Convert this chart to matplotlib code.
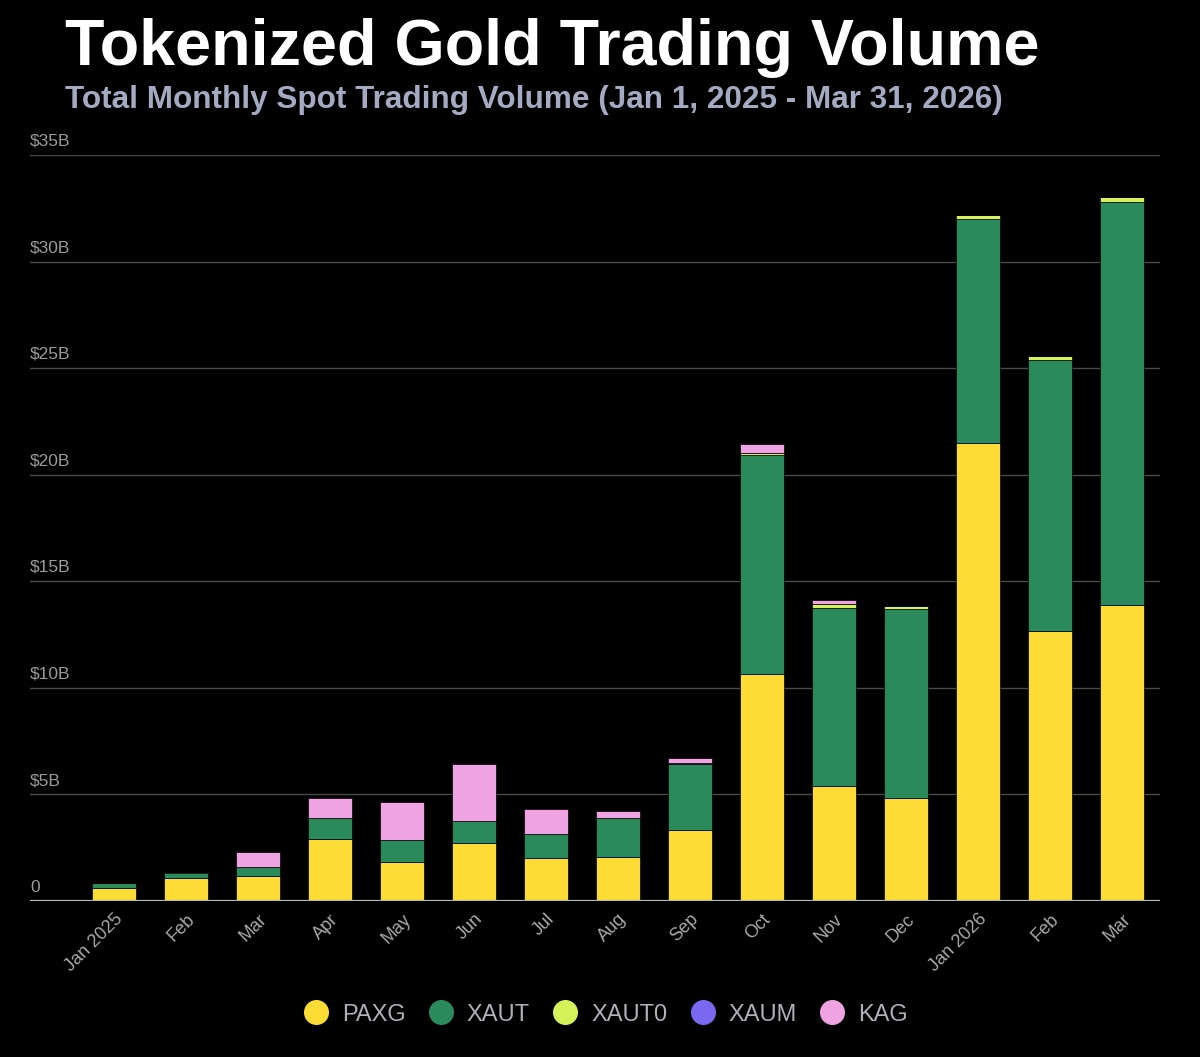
import matplotlib
matplotlib.use("Agg")
import matplotlib.pyplot as plt
from matplotlib.lines import Line2D
import numpy as np

months = ["Jan 2025", "Feb", "Mar", "Apr", "May", "Jun", "Jul", "Aug", "Sep",
          "Oct", "Nov", "Dec", "Jan 2026", "Feb", "Mar"]
paxg  = [0.60, 1.10, 1.17, 2.90, 1.83, 2.72, 2.00, 2.06, 3.33, 10.66, 5.40, 4.83, 21.50, 12.67, 13.90]
xaut  = [0.25, 0.22, 0.43, 1.00, 1.03, 1.04, 1.14, 1.84, 3.10, 10.28, 8.35, 8.87, 10.50, 12.70, 18.90]
xaut0 = [0.00, 0.03, 0.00, 0.00, 0.00, 0.00, 0.00, 0.00, 0.00, 0.10, 0.17, 0.15, 0.20, 0.20, 0.22]
xaum  = [0.00, 0.00, 0.00, 0.00, 0.00, 0.00, 0.00, 0.00, 0.05, 0.00, 0.00, 0.00, 0.00, 0.00, 0.00]
kag   = [0.00, 0.00, 0.70, 0.95, 1.80, 2.67, 1.16, 0.30, 0.25, 0.40, 0.20, 0.00, 0.00, 0.00, 0.00]
series_names = ["PAXG", "XAUT", "XAUT0", "XAUM", "KAG"]
yticks = [0, 5, 10, 15, 20, 25, 30, 35]
ytick_labels = ["0", "$5B", "$10B", "$15B", "$20B", "$25B", "$30B", "$35B"]

colors = ["#FDDC36", "#2B8A5C", "#D6F25A", "#7B68F0", "#F0A3E2"]

plt.rcParams['font.family'] = ['Liberation Sans', 'DejaVu Sans']

fig = plt.figure(figsize=(12, 10.57), dpi=100, facecolor="black")
ax = fig.add_axes([0.025, 0.1476, 0.9417, 0.7058])
ax.set_facecolor("black")

x = np.arange(len(months))
bottom = np.zeros(len(months))
for name, vals, c in zip(series_names, [paxg, xaut, xaut0, xaum, kag], colors):
    v = np.array(vals)
    ax.bar(x, v, bottom=bottom, width=0.61, color=c, edgecolor="black",
           linewidth=0.5, zorder=3)
    bottom += v

ax.set_xlim(-1.17, 14.53)
ax.set_ylim(0, 35)
for s in ax.spines.values():
    s.set_visible(False)
ax.set_yticks([])
for t in yticks[1:]:
    ax.axhline(t, color="#4a4a4a", linewidth=1.0, zorder=1)
ax.axhline(0, color="#b8b8b8", linewidth=1.6, zorder=4)
for t, lab in zip(yticks, ytick_labels):
    ax.text(0.0, t + 0.3, lab, transform=ax.get_yaxis_transform(),
            color="#9a9a9a", fontsize=12.5, ha="left", va="bottom", clip_on=False)

ax.set_xticks(x)
ax.set_xticklabels(months, rotation=45, ha="right", rotation_mode="anchor",
                   color="#a8a8a8", fontsize=13)
ax.tick_params(axis="x", length=0, pad=7)

fig.text(0.054, 0.955, "Tokenized Gold Trading Volume", color="white",
         fontsize=46.5, fontweight="bold", ha="left", va="center")
fig.text(0.054, 0.905, "Total Monthly Spot Trading Volume (Jan 1, 2025 - Mar 31, 2026)",
         color="#A3AAC2", fontsize=22.7, fontweight="bold", ha="left", va="center")

handles = [Line2D([0], [0], marker="o", linestyle="", markersize=17,
                  markerfacecolor=c, markeredgecolor=c) for c in colors]
leg = fig.legend(handles, series_names, loc="center", bbox_to_anchor=(0.505, 0.04),
                 ncol=5, frameon=False, fontsize=17, handlelength=1.0,
                 handletextpad=0.6, columnspacing=1.0)
for t in leg.get_texts():
    t.set_color("#b0b0b8")

fig.savefig("out.png", dpi=100, facecolor="black")
